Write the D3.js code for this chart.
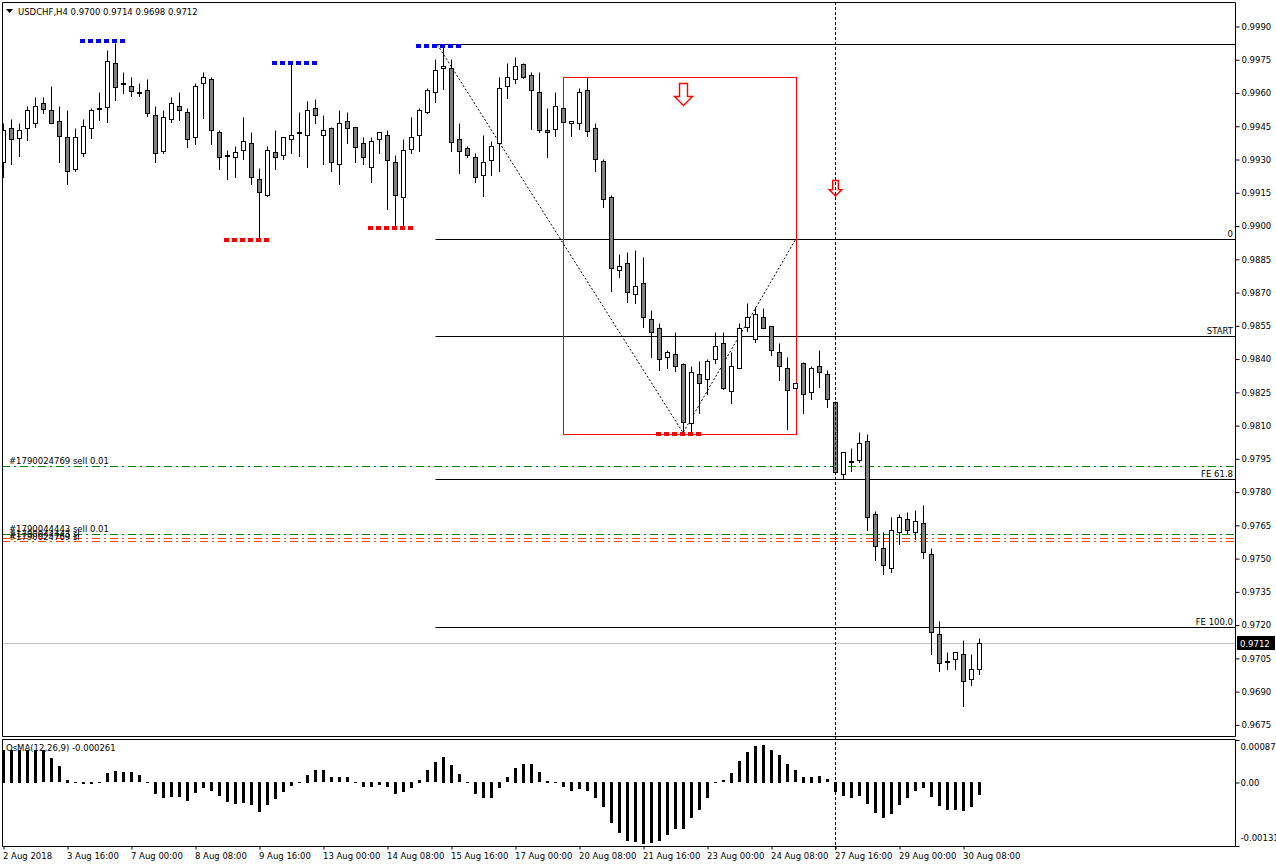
<!DOCTYPE html>
<html>
<head>
<meta charset="utf-8">
<script src="https://cdnjs.cloudflare.com/ajax/libs/d3/7.8.5/d3.min.js"></script>
<style>
  body { margin: 0; background: #fff; }
  svg text { font-family: "DejaVu Sans", "Liberation Sans", sans-serif; font-size: 8.5px; fill: #000; }
</style>
</head>
<body>
<svg id="chart"></svg>
<script>
const width = 1276;
const height = 867;
const chartLeft = 2, chartRight = 1235;
const chartTop = 2, mainBottom = 736;
const oscTop = 739, oscBottom = 846;

// USDCHF H4 candles, 2 Aug 08:00 .. 30 Aug 08:00
const opens = [
  0.99290,0.99440,0.99398,0.99440,0.99463,0.99553,0.99523,0.99474,0.99400,0.99258,
  0.99331,0.99440,0.99530,0.99538,0.99734,0.99644,0.99630,0.99603,0.99612,0.99499,
  0.99340,0.99481,0.99541,0.99514,0.99400,0.99644,0.99662,0.99422,0.99319,0.99310,
  0.99341,0.99373,0.99210,0.99140,0.99332,0.99319,0.99391,0.99422,0.99409,0.99531,
  0.99409,0.99440,0.99282,0.99473,0.99446,0.99373,0.99267,0.99391,0.99409,0.99291,
  0.99129,0.99349,0.99409,0.99513,0.99603,0.99711,0.99711,0.99391,0.99350,0.99310,
  0.99228,0.99300,0.99373,0.99630,0.99661,0.99733,0.99680,0.99603,0.99431,0.99439,
  0.99531,0.99463,0.99463,0.99614,0.99441,0.99292,0.99132,0.98802,0.98832,0.98692,
  0.98741,0.98579,0.98538,0.98408,0.98421,0.98380,0.98110,0.98331,0.98308,0.98399,
  0.98471,0.98257,0.98360,0.98546,0.98489,0.98588,0.98547,0.98430,0.98358,0.98268,
  0.98381,0.98250,0.98369,0.98331,0.98208,0.97880,0.97938,0.97947,0.98029,0.97699,
  0.97546,0.97456,0.97618,0.97677,0.97618,0.97659,0.97519,0.97158,0.97036,0.97045,
  0.97068,0.96955,0.97000
];
const highs = [
  0.99463,0.99483,0.99463,0.99541,0.99580,0.99580,0.99631,0.99541,0.99523,0.99442,
  0.99483,0.99531,0.99604,0.99794,0.99826,0.99693,0.99672,0.99644,0.99662,0.99541,
  0.99523,0.99580,0.99604,0.99531,0.99644,0.99693,0.99672,0.99433,0.99343,0.99361,
  0.99490,0.99422,0.99262,0.99361,0.99433,0.99403,0.99731,0.99514,0.99564,0.99573,
  0.99500,0.99448,0.99523,0.99514,0.99448,0.99400,0.99400,0.99425,0.99433,0.99319,
  0.99394,0.99490,0.99531,0.99621,0.99753,0.99812,0.99753,0.99463,0.99362,0.99331,
  0.99409,0.99382,0.99670,0.99735,0.99762,0.99735,0.99693,0.99693,0.99531,0.99606,
  0.99531,0.99474,0.99621,0.99674,0.99463,0.99301,0.99140,0.98874,0.98883,0.98892,
  0.98859,0.98621,0.98561,0.98441,0.98522,0.98381,0.98369,0.98393,0.98400,0.98522,
  0.98522,0.98432,0.98561,0.98654,0.98636,0.98629,0.98549,0.98471,0.98408,0.98290,
  0.98388,0.98369,0.98441,0.98351,0.98211,0.97979,0.97997,0.98071,0.98060,0.97717,
  0.97621,0.97686,0.97701,0.97710,0.97719,0.97741,0.97546,0.97218,0.97077,0.97077,
  0.97135,0.97069,0.97140
];
const lows = [
  0.99222,0.99280,0.99316,0.99388,0.99448,0.99511,0.99463,0.99290,0.99189,0.99249,
  0.99316,0.99398,0.99478,0.99470,0.99568,0.99601,0.99588,0.99588,0.99496,0.99290,
  0.99331,0.99470,0.99478,0.99358,0.99371,0.99489,0.99371,0.99258,0.99210,0.99219,
  0.99301,0.99189,0.98937,0.99136,0.99258,0.99301,0.99331,0.99317,0.99267,0.99463,
  0.99279,0.99249,0.99189,0.99373,0.99291,0.99279,0.99200,0.99331,0.99079,0.98989,
  0.98989,0.99331,0.99340,0.99511,0.99561,0.99618,0.99340,0.99240,0.99310,0.99200,
  0.99136,0.99228,0.99249,0.99579,0.99643,0.99668,0.99439,0.99425,0.99310,0.99406,
  0.99471,0.99406,0.99436,0.99406,0.99250,0.99087,0.98708,0.98769,0.98659,0.98651,
  0.98546,0.98408,0.98350,0.98358,0.98347,0.98068,0.98068,0.98158,0.98242,0.98381,
  0.98266,0.98200,0.98358,0.98528,0.98478,0.98538,0.98418,0.98305,0.98086,0.98268,
  0.98158,0.98218,0.98275,0.98185,0.97887,0.97859,0.97896,0.97937,0.97629,0.97493,
  0.97429,0.97438,0.97568,0.97614,0.97587,0.97504,0.97068,0.96995,0.97003,0.97003,
  0.96836,0.96928,0.96980
];
const closes = [
  0.99433,0.99391,0.99433,0.99523,0.99541,0.99529,0.99465,0.99407,0.99249,0.99400,
  0.99451,0.99523,0.99531,0.99744,0.99628,0.99645,0.99610,0.99604,0.99511,0.99331,
  0.99490,0.99553,0.99522,0.99391,0.99631,0.99671,0.99431,0.99310,0.99320,0.99332,
  0.99382,0.99220,0.99152,0.99343,0.99310,0.99400,0.99409,0.99423,0.99523,0.99499,
  0.99433,0.99291,0.99463,0.99440,0.99358,0.99310,0.99382,0.99422,0.99300,0.99138,
  0.99343,0.99400,0.99523,0.99612,0.99702,0.99720,0.99380,0.99340,0.99319,0.99219,
  0.99291,0.99359,0.99621,0.99670,0.99720,0.99670,0.99612,0.99431,0.99422,0.99541,
  0.99471,0.99474,0.99605,0.99430,0.99301,0.99120,0.98809,0.98820,0.98701,0.98728,
  0.98588,0.98520,0.98399,0.98430,0.98369,0.98117,0.98340,0.98290,0.98390,0.98457,
  0.98268,0.98369,0.98538,0.98588,0.98602,0.98538,0.98439,0.98367,0.98259,0.98290,
  0.98241,0.98358,0.98340,0.98218,0.97889,0.97979,0.97939,0.98020,0.97686,0.97559,
  0.97469,0.97627,0.97686,0.97627,0.97668,0.97528,0.97167,0.97027,0.97037,0.97077,
  0.96946,0.97004,0.97120
];

// OsMA(12,26,9) histogram
const osma = [
  0.00068,0.00068,0.00068,0.00068,0.00068,0.00066,0.00050,0.00034,0.00006,-0.00003,
  -0.00005,-0.00004,0.00002,0.00019,0.00023,0.00021,0.00021,0.00015,0.00001,-0.00025,
  -0.00032,-0.00030,-0.00030,-0.00039,-0.00023,-0.00012,-0.00018,-0.00029,-0.00041,-0.00045,
  -0.00043,-0.00048,-0.00061,-0.00048,-0.00036,-0.00021,-0.00009,0.00001,0.00016,0.00025,
  0.00025,0.00011,0.00011,0.00011,0.00001,-0.00011,-0.00011,-0.00007,-0.00011,-0.00025,
  -0.00021,-0.00013,0.00006,0.00025,0.00042,0.00053,0.00037,0.00017,-0.00003,-0.00025,
  -0.00034,-0.00034,-0.00012,0.00011,0.00030,0.00039,0.00039,0.00021,0.00004,0.00002,
  -0.00011,-0.00019,-0.00014,-0.00019,-0.00032,-0.00051,-0.00085,-0.00105,-0.00122,-0.00123,
  -0.00128,-0.00126,-0.00122,-0.00109,-0.00096,-0.00096,-0.00075,-0.00058,-0.00032,-0.00003,
  0.00005,0.00020,0.00044,0.00063,0.00076,0.00078,0.00068,0.00057,0.00038,0.00025,
  0.00012,0.00012,0.00014,0.00007,-0.00020,-0.00028,-0.00032,-0.00028,-0.00045,-0.00064,
  -0.00075,-0.00066,-0.00048,-0.00034,-0.00018,-0.00013,-0.00030,-0.00050,-0.00058,-0.00058,
  -0.00060,-0.00051,-0.000261
];

const priceTicks = [0.9675,0.9690,0.9705,0.9720,0.9735,0.9750,0.9765,0.9780,0.9795,
  0.9810,0.9825,0.9840,0.9855,0.9870,0.9885,0.9900,0.9915,0.9930,0.9945,0.9960,0.9975,0.9990];
const oscTicks = [0.000876, 0, -0.00131];
const oscTickLabels = ['0.000876', '0.00', '-0.00131'];
const timeIndex = [0,8,16,24,32,40,48,56,64,72,80,88,96,104,112,120];
const timeLabels = ['2 Aug 2018','3 Aug 16:00','7 Aug 00:00','8 Aug 08:00','9 Aug 16:00',
  '13 Aug 00:00','14 Aug 08:00','15 Aug 16:00','17 Aug 00:00','20 Aug 08:00','21 Aug 16:00',
  '23 Aug 00:00','24 Aug 08:00','27 Aug 16:00','29 Aug 00:00','30 Aug 08:00'];

// objects drawn on the chart
const fiboStart = 54;
const fiboLevels = [0.99821, 0.98941, 0.98504, 0.97859, 0.97191];
const fiboLabels = ['', '0', 'START', 'FE 61.8', 'FE 100.0'];
const zigzagIdx = [54.3, 85, 99.1];
const zigzagPrice = [0.99818, 0.98068, 0.98941];
const boxIdx = [70, 99.1];
const boxPrice = [0.99672, 0.98062];
const orderPrice = [0.97918, 0.97609, 0.97591, 0.97581];
const orderColor = ['#008000', '#008000', '#ff4500', '#ff4500'];
const orderLabels = ['#1790024769 sell 0.01', '#1790044443 sell 0.01', '#1790044443 sl', '#1790024769 sl'];
const highMarkIdx = [10, 34, 52];
const highMarkPrice = [0.99835, 0.99735, 0.99812];
const lowMarkIdx = [28, 46, 82];
const lowMarkPrice = [0.98937, 0.98990, 0.98062];
const arrowIdx = [85, 104];
const arrowPrice = [0.99645, 0.99207];
const arrowSize = [1, 0.7];
const sessionIdx = 104;
const lastPrice = 0.9712;
const header = 'USDCHF,H4  0.9700 0.9714 0.9698 0.9712';
const oscLabel = 'OsMA(12,26,9) -0.000261';

const svg = d3.select('#chart').attr('width', width).attr('height', height);

const x = d3.scaleLinear().domain([0, 122]).range([3, 979]);
const y = d3.scaleLinear().domain([0.9675, 0.9990]).range([724.9, 26.5]);
const yOsc = d3.scaleLinear().domain([-0.00131, 0.000876]).range([oscBottom, oscTop + 1]);
const px = i => Math.round(x(i)) + 0.5;
const py = v => Math.round(y(v)) + 0.5;

svg.append('defs').append('clipPath').attr('id', 'main-clip')
  .append('rect').attr('x', chartLeft + 1).attr('y', chartTop + 1)
  .attr('width', chartRight - chartLeft - 1).attr('height', mainBottom - chartTop - 1);

const main = svg.append('g').attr('clip-path', 'url(#main-clip)');

// current price line
main.append('line')
  .attr('x1', chartLeft).attr('x2', chartRight)
  .attr('y1', py(lastPrice)).attr('y2', py(lastPrice))
  .attr('stroke', '#c0c0c0');

// fibo expansion levels
main.selectAll('.fibo').data(fiboLevels).join('line')
  .attr('class', 'fibo')
  .attr('x1', px(fiboStart)).attr('x2', chartRight)
  .attr('y1', d => py(d)).attr('y2', d => py(d))
  .attr('stroke', '#000');
main.selectAll('.fibo-label').data(fiboLevels).join('text')
  .attr('class', 'fibo-label')
  .attr('x', chartRight - 2).attr('y', d => py(d) - 3)
  .attr('text-anchor', 'end')
  .text((d, i) => fiboLabels[i]);

// order lines
main.selectAll('.order').data(orderPrice).join('line')
  .attr('class', 'order')
  .attr('x1', chartLeft).attr('x2', chartRight)
  .attr('y1', d => py(d)).attr('y2', d => py(d))
  .attr('stroke', (d, i) => orderColor[i])
  .attr('stroke-dasharray', '8,4,2,4');
main.selectAll('.order-label').data(orderPrice).join('text')
  .attr('class', 'order-label')
  .attr('x', 9).attr('y', (d, i) => py(d) - (i < 2 ? 3 : 2))
  .text((d, i) => orderLabels[i]);

// red rectangle
main.append('rect')
  .attr('x', px(boxIdx[0])).attr('y', py(boxPrice[0]))
  .attr('width', px(boxIdx[1]) - px(boxIdx[0]))
  .attr('height', py(boxPrice[1]) - py(boxPrice[0]))
  .attr('fill', 'none').attr('stroke', '#ff0000');

// zigzag
main.append('path')
  .datum(zigzagIdx.map((d, i) => [x(d), y(zigzagPrice[i])]))
  .attr('d', d3.line())
  .attr('fill', 'none').attr('stroke', '#000')
  .attr('stroke-dasharray', '2,2');

// candles
const idx = d3.range(opens.length);
main.selectAll('.wick').data(idx).join('line')
  .attr('class', 'wick')
  .attr('x1', d => px(d)).attr('x2', d => px(d))
  .attr('y1', d => py(highs[d])).attr('y2', d => py(lows[d]) + 0.5)
  .attr('stroke', '#000');
main.selectAll('.body').data(idx).join('rect')
  .attr('class', 'body')
  .attr('x', d => px(d) - 2)
  .attr('width', 4)
  .attr('y', d => py(Math.max(opens[d], closes[d])))
  .attr('height', d => Math.max(1, py(Math.min(opens[d], closes[d])) - py(Math.max(opens[d], closes[d]))))
  .attr('fill', d => closes[d] >= opens[d] ? '#fff' : '#808080')
  .attr('stroke', '#000');

// fractal markers
const marks = [];
highMarkIdx.forEach((d, i) => marks.push({i: d, p: highMarkPrice[i], c: '#0000ff'}));
lowMarkIdx.forEach((d, i) => marks.push({i: d, p: lowMarkPrice[i], c: '#ff0000'}));
marks.forEach(m => {
  main.append('g').selectAll('rect').data(d3.range(6)).join('rect')
    .attr('x', k => Math.round(x(m.i + k)) - 3)
    .attr('y', Math.round(y(m.p)) - 2)
    .attr('width', 5).attr('height', 4)
    .attr('fill', m.c);
});

// arrows
arrowIdx.forEach((d, i) => {
  const s = arrowSize[i];
  const cx = px(d), ty = py(arrowPrice[i]);
  const pts = [[-4,0],[4,0],[4,13],[9,13],[0,22],[-9,13],[-4,13]]
    .map(p => [cx + p[0] * s, ty + p[1] * s]);
  main.append('path')
    .attr('d', d3.line()(pts) + 'Z')
    .attr('fill', '#fff').attr('stroke', '#ff0000').attr('stroke-width', 1.4);
});

// frames
svg.append('path')
  .attr('d', `M${chartLeft + 0.5},${chartTop + 0.5}H${chartRight + 0.5}V${mainBottom + 0.5}H${chartLeft + 0.5}Z`)
  .attr('fill', 'none').attr('stroke', '#000');
svg.append('path')
  .attr('d', `M${chartLeft + 0.5},${oscTop + 0.5}H${chartRight + 0.5}V${oscBottom + 0.5}H${chartLeft + 0.5}Z`)
  .attr('fill', 'none').attr('stroke', '#000');

// OsMA histogram
svg.append('g').selectAll('rect').data(idx).join('rect')
  .attr('x', d => Math.round(x(d)) - 1)
  .attr('width', 3)
  .attr('y', d => Math.round(Math.min(yOsc(osma[d]), yOsc(0))))
  .attr('height', d => Math.max(1, Math.round(Math.abs(yOsc(osma[d]) - yOsc(0)))))
  .attr('fill', '#000');

// session separator
svg.append('line')
  .attr('x1', px(sessionIdx)).attr('x2', px(sessionIdx))
  .attr('y1', chartTop).attr('y2', oscBottom + 4)
  .attr('stroke', '#000').attr('stroke-dasharray', '3,2');

// price axis
const yAxis = svg.append('g')
  .attr('transform', `translate(${chartRight + 0.5},0)`)
  .call(d3.axisRight(y).tickValues(priceTicks).tickSize(4).tickPadding(2)
    .tickFormat(d3.format('.4f')));
yAxis.select('.domain').remove();
yAxis.selectAll('.tick line').attr('stroke', '#000');
yAxis.selectAll('text').attr('font-size', null).attr('font-family', null).attr('fill', '#000');

// current price tag
svg.append('rect').attr('x', chartRight + 2).attr('y', py(lastPrice) - 7.5)
  .attr('width', 38).attr('height', 14).attr('fill', '#000');
svg.append('text').attr('x', chartRight + 5).attr('y', py(lastPrice) + 3.5)
  .style('fill', '#fff').text(d3.format('.4f')(lastPrice));

// osma axis
const oscAxis = svg.append('g')
  .attr('transform', `translate(${chartRight + 0.5},0)`)
  .call(d3.axisRight(yOsc).tickValues(oscTicks).tickSize(4).tickPadding(1)
    .tickFormat((d, i) => oscTickLabels[i]));
oscAxis.select('.domain').remove();
oscAxis.selectAll('text').attr('font-size', null).attr('font-family', null).attr('fill', '#000')
  .attr('dy', (d, i) => i === 0 ? '1.1em' : (i === 2 ? '-0.6em' : '0.32em'));

// time axis
const xAxis = svg.append('g')
  .attr('transform', `translate(0.5,${oscBottom + 0.5})`)
  .call(d3.axisBottom(x).tickValues(timeIndex).tickSize(3).tickPadding(3)
    .tickFormat((d, i) => timeLabels[i]));
xAxis.select('.domain').remove();
xAxis.selectAll('text').attr('font-size', null).attr('font-family', null).attr('fill', '#000')
  .attr('text-anchor', 'start').attr('x', -1);

// header and indicator label
svg.append('path').attr('d', 'M6,9H13L9.5,13Z').attr('fill', '#000');
svg.append('text').attr('x', 18).attr('y', 15).text(header);
svg.append('text').attr('x', 6).attr('y', oscTop + 12).text(oscLabel);
</script>
</body>
</html>
